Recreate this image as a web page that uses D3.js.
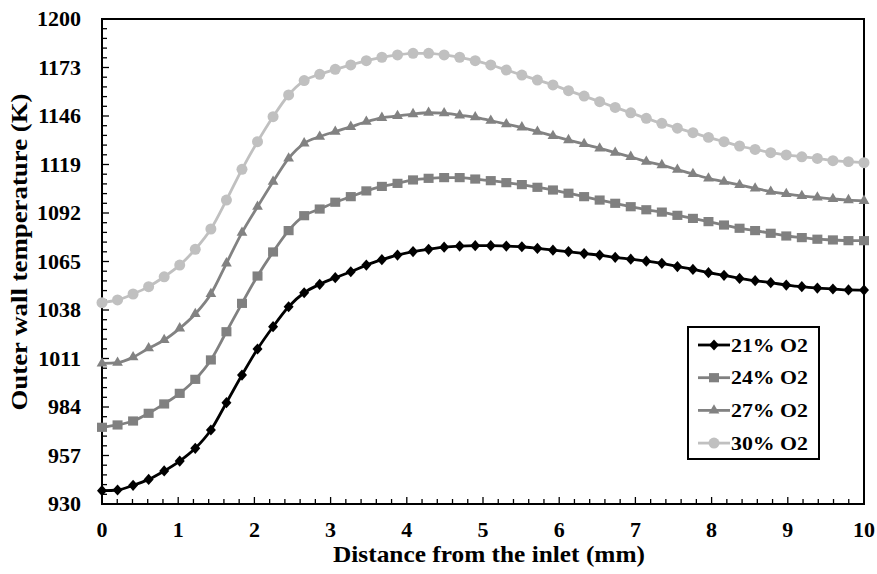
<!DOCTYPE html>
<html>
<head>
<meta charset="utf-8">
<script src="https://cdn.jsdelivr.net/npm/d3@7"></script>
<style>
  html, body { margin: 0; padding: 0; background: #fff; }
  svg { display: block; }
</style>
</head>
<body>
<svg id="chart" width="877" height="574" font-family="Liberation Serif" font-weight="bold"></svg>
<script>
// Sampling positions along the wall (mm)
const distance = [0, 0.204, 0.408, 0.612, 0.816, 1.020, 1.224, 1.429, 1.633, 1.837,
  2.041, 2.245, 2.449, 2.653, 2.857, 3.061, 3.265, 3.469, 3.673, 3.878,
  4.082, 4.286, 4.490, 4.694, 4.898, 5.102, 5.306, 5.510, 5.714, 5.918,
  6.122, 6.327, 6.531, 6.735, 6.939, 7.143, 7.347, 7.551, 7.755, 7.959,
  8.163, 8.367, 8.571, 8.776, 8.980, 9.184, 9.388, 9.592, 9.796, 10.000];

// Outer wall temperature (K) for each oxygen fraction
const o2_21 = [937.4, 937.8, 940.4, 943.7, 948.4, 953.9, 961.0, 971.2, 986.4, 1001.8,
  1016.3, 1028.7, 1039.8, 1047.6, 1052.3, 1056.0, 1059.3, 1063.0, 1066.0, 1068.6,
  1070.5, 1071.8, 1073.0, 1073.6, 1073.8, 1073.8, 1073.6, 1073.2, 1072.3, 1071.3,
  1070.5, 1069.4, 1068.6, 1067.3, 1066.3, 1065.2, 1064.0, 1062.2, 1060.6, 1058.8,
  1057.3, 1055.6, 1054.3, 1053.2, 1051.9, 1051.0, 1050.2, 1049.7, 1049.2, 1049.1];
const o2_24 = [972.7, 974.0, 976.2, 980.5, 985.7, 991.6, 999.4, 1010.2, 1025.9, 1041.7,
  1056.9, 1070.3, 1082.2, 1090.5, 1094.2, 1098.0, 1101.1, 1104.3, 1106.8, 1108.5,
  1110.4, 1111.3, 1111.7, 1111.7, 1110.9, 1110.0, 1108.9, 1107.8, 1106.3, 1104.8,
  1103.0, 1101.1, 1099.2, 1097.4, 1095.5, 1093.8, 1092.5, 1090.7, 1089.0, 1087.2,
  1085.3, 1083.5, 1082.2, 1080.7, 1079.2, 1078.3, 1077.4, 1077.0, 1076.6, 1076.6];
const o2_27 = [1008.3, 1008.7, 1011.7, 1016.7, 1021.3, 1027.8, 1035.8, 1046.9, 1064.0, 1081.1,
  1095.5, 1109.4, 1122.4, 1130.8, 1134.5, 1137.3, 1140.0, 1142.8, 1145.0, 1146.0,
  1147.1, 1147.8, 1147.6, 1146.4, 1145.3, 1143.4, 1141.5, 1139.7, 1137.3, 1134.9,
  1132.6, 1130.4, 1128.0, 1125.6, 1123.3, 1120.6, 1118.7, 1116.1, 1113.7, 1111.3,
  1109.4, 1107.6, 1105.7, 1103.9, 1102.6, 1101.5, 1100.7, 1099.8, 1099.2, 1098.8];
const o2_30 = [1042.1, 1043.6, 1046.9, 1051.0, 1056.5, 1063.0, 1071.8, 1083.1, 1099.2, 1116.3,
  1131.7, 1145.6, 1157.7, 1165.7, 1169.2, 1172.0, 1174.4, 1176.8, 1178.7, 1180.0,
  1180.9, 1180.9, 1180.0, 1178.7, 1176.8, 1174.4, 1171.6, 1168.8, 1166.0, 1163.3,
  1160.1, 1157.1, 1154.0, 1150.8, 1147.8, 1144.7, 1141.9, 1139.2, 1136.7, 1134.1,
  1131.7, 1129.3, 1127.4, 1125.6, 1124.3, 1123.3, 1122.4, 1121.1, 1120.6, 1120.0];

const seriesNames = ["21% O2", "24% O2", "27% O2", "30% O2"];
const xTickLabels = [0, 1, 2, 3, 4, 5, 6, 7, 8, 9, 10];
const yTickLabels = [930, 957, 984, 1011, 1038, 1065, 1092, 1119, 1146, 1173, 1200];

// Marker shapes: a near-square diamond and a slightly flattened square
const symbolRhomb = {
  draw(ctx, size) {
    const s = Math.sqrt(size), hw = s * 0.5, hh = s * 0.56;
    ctx.moveTo(0, -hh); ctx.lineTo(hw, 0); ctx.lineTo(0, hh); ctx.lineTo(-hw, 0); ctx.closePath();
  }
};
const symbolBox = {
  draw(ctx, size) {
    const w = Math.sqrt(size), h = w * 0.92;
    ctx.rect(-w / 2, -h / 2, w, h);
  }
};

const series = [
  { name: seriesNames[0], values: o2_21, color: "#000000", symbol: symbolRhomb, size: 100 },
  { name: seriesNames[1], values: o2_24, color: "#808080", symbol: symbolBox, size: 100 },
  { name: seriesNames[2], values: o2_27, color: "#828282", symbol: d3.symbolTriangle, size: 50 },
  { name: seriesNames[3], values: o2_30, color: "#c0c0c0", symbol: d3.symbolCircle, size: 95 }
];

const svg = d3.select("#chart");
const FONT = "Liberation Serif";
const margin = { left: 102, right: 13, top: 19, bottom: 70 };
const W = 877, H = 574;
const x0 = margin.left, x1 = W - margin.right, y0 = H - margin.bottom, y1 = margin.top;

const x = d3.scaleLinear().domain([0, 10]).range([x0, x1]);
const y = d3.scaleLinear().domain([930, 1200]).range([y0, y1]);

svg.append("rect").attr("width", W).attr("height", H).attr("fill", "#fff");

// Inward tick marks: major and minor
const axes = svg.append("g").attr("stroke", "#000").attr("stroke-width", 1.3);
d3.range(0, 10.0001, 0.2).forEach(v => {
  const major = Math.abs(v - Math.round(v)) < 1e-6;
  axes.append("line").attr("x1", x(v)).attr("x2", x(v))
    .attr("y1", y0).attr("y2", y0 - (major ? 7 : 5));
});
d3.range(930, 1200.001, 5.4).forEach(v => {
  const major = Math.abs((v - 930) / 27 - Math.round((v - 930) / 27)) < 1e-6;
  axes.append("line").attr("y1", y(v)).attr("y2", y(v))
    .attr("x1", x0).attr("x2", x0 + (major ? 7 : 5));
});

// Plot frame
svg.append("rect").attr("x", x0).attr("y", y1).attr("width", x1 - x0).attr("height", y0 - y1)
  .attr("fill", "none").attr("stroke", "#000").attr("stroke-width", 2);

// Tick labels
const fontTick = 20;
xTickLabels.forEach(v => {
  svg.append("text").attr("font-family", FONT).attr("font-weight", "bold")
    .attr("transform", `translate(${x(v)},${537}) scale(1.1,1)`)
    .attr("text-anchor", "middle").attr("font-size", fontTick).text(v);
});
yTickLabels.forEach(v => {
  svg.append("text").attr("font-family", FONT).attr("font-weight", "bold")
    .attr("transform", `translate(${81},${y(v) + 7}) scale(1.1,1)`)
    .attr("text-anchor", "end").attr("font-size", fontTick).text(v);
});

// Axis titles
svg.append("text").attr("font-family", FONT).attr("font-weight", "bold")
  .attr("x", 489).attr("y", 562).attr("text-anchor", "middle")
  .attr("font-size", 23).attr("textLength", 312).attr("lengthAdjust", "spacingAndGlyphs")
  .text("Distance from the inlet (mm)");
svg.append("text").attr("font-family", FONT).attr("font-weight", "bold")
  .attr("transform", `translate(27,252) rotate(-90)`).attr("text-anchor", "middle")
  .attr("font-size", 23).attr("textLength", 317).attr("lengthAdjust", "spacingAndGlyphs")
  .text("Outer wall temperature (K)");

// Series lines and markers
const line = d3.line().x((d, i) => x(distance[i])).y(d => y(d)).curve(d3.curveMonotoneX);
series.forEach(s => {
  const g = svg.append("g");
  g.append("path").attr("d", line(s.values)).attr("fill", "none")
    .attr("stroke", s.color).attr("stroke-width", 2.8);
  g.selectAll("path.m").data(s.values).join("path").attr("class", "m")
    .attr("transform", (d, i) => `translate(${x(distance[i])},${y(d)})`)
    .attr("d", d3.symbol().type(s.symbol).size(s.size)())
    .attr("fill", s.color);
});

// Legend
const lg = svg.append("g");
lg.append("rect").attr("x", 688).attr("y", 327).attr("width", 131).attr("height", 132)
  .attr("fill", "#fff").attr("stroke", "#000").attr("stroke-width", 2);
series.forEach((s, k) => {
  const cy = 345 + k * 32.7;
  lg.append("line").attr("x1", 698).attr("x2", 730).attr("y1", cy).attr("y2", cy)
    .attr("stroke", s.color).attr("stroke-width", 2.8);
  lg.append("path").attr("transform", `translate(714,${cy})`)
    .attr("d", d3.symbol().type(s.symbol).size(s.size)()).attr("fill", s.color);
  lg.append("text").attr("font-family", FONT).attr("font-weight", "bold")
    .attr("x", 731).attr("y", cy + 6.5).attr("font-size", 18)
    .attr("textLength", 77).attr("lengthAdjust", "spacingAndGlyphs").text(s.name);
});
</script>
</body>
</html>
